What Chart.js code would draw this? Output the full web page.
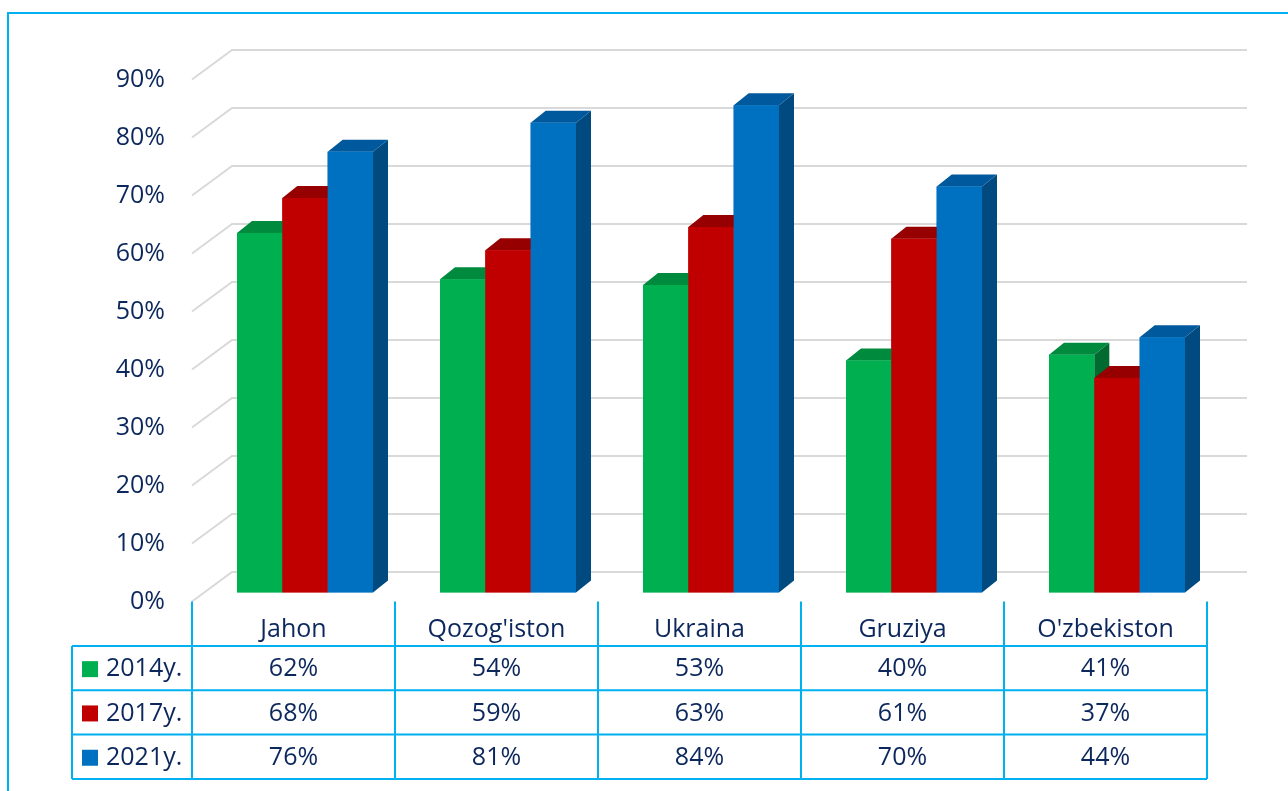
<!DOCTYPE html>
<html>
<head>
<meta charset="utf-8">
<script src="https://cdn.jsdelivr.net/npm/chart.js@4"></script>
<style>
  body { margin: 0; background: #fff; }
  #wrap { position: relative; width: 1288px; height: 791px; overflow: hidden; }
  #frame { position: absolute; left: 7px; top: 12px; width: 1300px; height: 800px; border: 2px solid #00b0f0; box-sizing: border-box; }
  canvas { position: absolute; left: 0; top: 0; }
</style>
</head>
<body>
<div id="wrap">
  <div id="frame"></div>
  <canvas id="chart" width="1288" height="791"></canvas>
</div>
<script>
const categories = ["Jahon", "Qozog'iston", "Ukraina", "Gruziya", "O'zbekiston"];
const seriesLabels = ["2014y.", "2017y.", "2021y."];
const values2014 = [62, 54, 53, 40, 41];
const values2017 = [68, 59, 63, 61, 37];
const values2021 = [76, 81, 84, 70, 44];
const yTicks = [0, 10, 20, 30, 40, 50, 60, 70, 80, 90];

const textColor = "#0c275c";
const fontFamily = '"Open Sans", sans-serif';
const lineBlue = "#00b0f0";

// front face colour, top face, side face
const colors = [
  { front: "#00b050", top: "#008a3e", side: "#006a30" },
  { front: "#c00000", top: "#960000", side: "#780000" },
  { front: "#0070c0", top: "#00599c", side: "#004a80" },
];

// 3d offsets relative to the bar plane
const front = { dx: -11.5, dy: 9 };
const back = { dx: 28.5, dy: -20.5 };
const barDepth = { dx: 15, dy: -12 };

const pct = (v) => v + "%";

const chart3d = {
  id: "chart3d",
  beforeDatasetsDraw(chart) {
    const { ctx, chartArea } = chart;
    const y = chart.scales.y;
    ctx.save();
    ctx.strokeStyle = "#d9d9d9";
    ctx.lineWidth = 2;
    yTicks.forEach((v) => {
      const yb = y.getPixelForValue(v);
      ctx.beginPath();
      ctx.moveTo(chartArea.left + front.dx, yb + front.dy);
      ctx.lineTo(chartArea.left + back.dx, yb + back.dy);
      ctx.lineTo(chartArea.right + back.dx, yb + back.dy);
      ctx.stroke();
    });
    ctx.fillStyle = textColor;
    ctx.font = "25px " + fontFamily;
    ctx.textAlign = "right";
    ctx.textBaseline = "middle";
    yTicks.forEach((v) => {
      ctx.fillText(pct(v), 165, y.getPixelForValue(v) + front.dy);
    });
    ctx.restore();
  },
  afterDatasetsDraw(chart) {
    const { ctx } = chart;
    ctx.save();
    categories.forEach((c, i) => {
      chart.data.datasets.forEach((ds, d) => {
        const el = chart.getDatasetMeta(d).data[i];
        const { x, y, base, width } = el.getProps(["x", "y", "base", "width"], true);
        const l = x - width / 2, r = x + width / 2;
        const col = colors[d];
        ctx.fillStyle = col.side;
        ctx.beginPath();
        ctx.moveTo(r, y);
        ctx.lineTo(r + barDepth.dx, y + barDepth.dy);
        ctx.lineTo(r + barDepth.dx, base + barDepth.dy);
        ctx.lineTo(r, base);
        ctx.closePath();
        ctx.fill();
        ctx.fillStyle = col.top;
        ctx.beginPath();
        ctx.moveTo(l, y);
        ctx.lineTo(l + barDepth.dx, y + barDepth.dy);
        ctx.lineTo(r + barDepth.dx, y + barDepth.dy);
        ctx.lineTo(r, y);
        ctx.closePath();
        ctx.fill();
        ctx.fillStyle = col.front;
        ctx.fillRect(l, y, width, base - y);
      });
    });
    ctx.restore();
  },
  afterDraw(chart) {
    const { ctx, chartArea } = chart;
    const x = chart.scales.x;
    const y = chart.scales.y;
    const top = y.getPixelForValue(0) + front.dy;
    const colW = (chartArea.right - chartArea.left) / categories.length;
    const left = chartArea.left + front.dx;
    const right = chartArea.right + front.dx;
    const rowH = 44.3;
    const headBottom = 646;
    const legendLeft = 72;
    ctx.save();
    ctx.strokeStyle = lineBlue;
    ctx.lineWidth = 2;
    const bottom = headBottom + rowH * seriesLabels.length;
    // vertical lines
    for (let k = 0; k <= categories.length; k++) {
      const xx = left + k * colW;
      ctx.beginPath();
      ctx.moveTo(xx, top);
      ctx.lineTo(xx, bottom);
      ctx.stroke();
    }
    ctx.beginPath();
    ctx.moveTo(legendLeft, headBottom);
    ctx.lineTo(legendLeft, bottom);
    ctx.stroke();
    // horizontal lines
    for (let r = 0; r <= seriesLabels.length; r++) {
      const yy = headBottom + r * rowH;
      ctx.beginPath();
      ctx.moveTo(legendLeft, yy);
      ctx.lineTo(right, yy);
      ctx.stroke();
    }
    ctx.fillStyle = textColor;
    ctx.font = "25px " + fontFamily;
    ctx.textAlign = "center";
    ctx.textBaseline = "middle";
    categories.forEach((c, i) => {
      ctx.fillText(c, x.getPixelForValue(i) + front.dx, (top + headBottom) / 2 + 6);
    });
    chart.data.datasets.forEach((ds, d) => {
      const cy = headBottom + rowH * d + rowH / 2 + 1;
      ctx.fillStyle = colors[d].front;
      ctx.fillRect(82, cy - 8, 16, 16);
      ctx.fillStyle = textColor;
      ctx.textAlign = "left";
      ctx.fillText(ds.label, 106, cy);
      ctx.textAlign = "center";
      ds.data.forEach((v, i) => {
        ctx.fillText(pct(v), x.getPixelForValue(i) + front.dx, cy);
      });
    });
    ctx.restore();
  },
};

new Chart(document.getElementById("chart"), {
  type: "bar",
  data: {
    labels: categories,
    datasets: [
      { label: seriesLabels[0], data: values2014, backgroundColor: colors[0].front },
      { label: seriesLabels[1], data: values2017, backgroundColor: colors[1].front },
      { label: seriesLabels[2], data: values2021, backgroundColor: colors[2].front },
    ],
  },
  options: {
    responsive: false,
    animation: false,
    datasets: {
      bar: { categoryPercentage: 0.67, barPercentage: 1 },
    },
    layout: {
      padding: { left: 203.5, right: 69.5, top: 70.5, bottom: 198.5 },
    },
    plugins: {
      legend: { display: false },
      tooltip: { enabled: false },
    },
    scales: {
      x: { display: false },
      y: { display: false, min: 0, max: 90, ticks: { stepSize: 10 } },
    },
  },
  plugins: [chart3d],
});
</script>
</body>
</html>
